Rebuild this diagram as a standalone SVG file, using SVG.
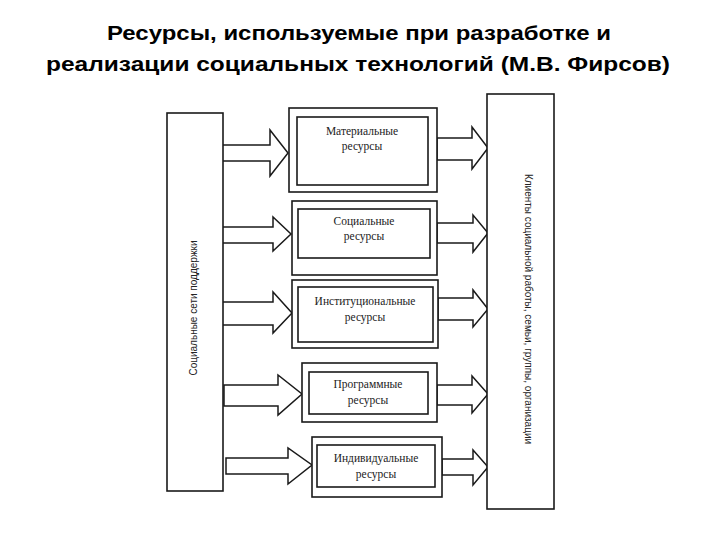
<svg xmlns="http://www.w3.org/2000/svg" width="720" height="540" viewBox="0 0 720 540">
<style>
.title{font-family:"Liberation Sans",Arial,sans-serif;font-weight:bold;font-size:21px;fill:#000;text-anchor:middle}
.box{fill:#fff;stroke:#1a1a1a;stroke-width:1.6}
.lbl{font-family:"Liberation Serif","Times New Roman",serif;font-size:11.5px;fill:#222;text-anchor:middle}
.side{font-family:"Liberation Sans",Arial,sans-serif;font-size:10px;fill:#222;text-anchor:middle}
.arr{fill:#fff;stroke:#1a1a1a;stroke-width:1.5;stroke-linejoin:miter}
</style>
<rect width="720" height="540" fill="#fff"/>
<text class="title" x="359" y="40" textLength="504" lengthAdjust="spacingAndGlyphs">Ресурсы, используемые при разработке и</text>
<text class="title" x="358" y="71" textLength="624" lengthAdjust="spacingAndGlyphs">реализации социальных технологий (М.В. Фирсов)</text>

<g id="connectors">
  <polygon class="arr" points="222,145 270,145 270,130 288,153 270,176 270,161 222,161"/>
  <polygon class="arr" points="222,227 273,227 273,217 291,234 273,251 273,243 222,243"/>
  <polygon class="arr" points="222,302 273,302 273,292 292,313 273,333 273,325 222,325"/>
  <polygon class="arr" points="224,385 278,385 278,375 302,394 278,415 278,406 224,406"/>
  <polygon class="arr" points="226,458 288,458 288,448 312,465 288,484 288,474 226,474"/>
  <polygon class="arr" points="437,138 472,138 472,127 488,148 472,169 472,160 437,160"/>
  <polygon class="arr" points="437,223 473,223 473,215 488,233 473,252 473,243 437,243"/>
  <polygon class="arr" points="438,298 473,298 473,290 488,309 473,327 473,320 438,320"/>
  <polygon class="arr" points="437,385 472,385 472,376 488,394 472,413 472,405 437,405"/>
  <polygon class="arr" points="442,459 473,459 473,450 488,467 473,485 473,475 442,475"/>
</g>

<g id="support-networks">
  <rect class="box" x="167" y="113" width="56" height="378"/>
  <text class="side" transform="translate(197,308) rotate(-90)">Социальные сети поддержки</text>
</g>

<g id="clients">
  <rect class="box" x="487" y="94" width="67" height="415"/>
  <text class="side" transform="translate(525,309) rotate(90)">Клиенты социальной работы, семьи, группы, организации</text>
</g>

<g id="material">
  <rect class="box" x="289" y="108" width="148" height="84"/>
  <rect class="box" x="297" y="117" width="131" height="68"/>
  <text class="lbl" x="362" y="135">Материальные</text>
  <text class="lbl" x="362" y="150">ресурсы</text>
</g>

<g id="social">
  <rect class="box" x="292" y="201" width="145" height="74"/>
  <rect class="box" x="298" y="209" width="132" height="49"/>
  <text class="lbl" x="364" y="225">Социальные</text>
  <text class="lbl" x="364" y="240">ресурсы</text>
</g>

<g id="institutional">
  <rect class="box" x="292" y="280" width="146" height="68"/>
  <rect class="box" x="298" y="287" width="135" height="55"/>
  <text class="lbl" x="365" y="305">Институциональные</text>
  <text class="lbl" x="365" y="321">ресурсы</text>
</g>

<g id="program">
  <rect class="box" x="302" y="363" width="135" height="59"/>
  <rect class="box" x="309" y="372" width="119" height="42"/>
  <text class="lbl" x="368" y="388">Программные</text>
  <text class="lbl" x="368" y="404">ресурсы</text>
</g>

<g id="individual">
  <rect class="box" x="312" y="437" width="130" height="60"/>
  <rect class="box" x="317" y="445" width="118" height="42"/>
  <text class="lbl" x="376" y="462">Индивидуальные</text>
  <text class="lbl" x="376" y="478">ресурсы</text>
</g>
</svg>
